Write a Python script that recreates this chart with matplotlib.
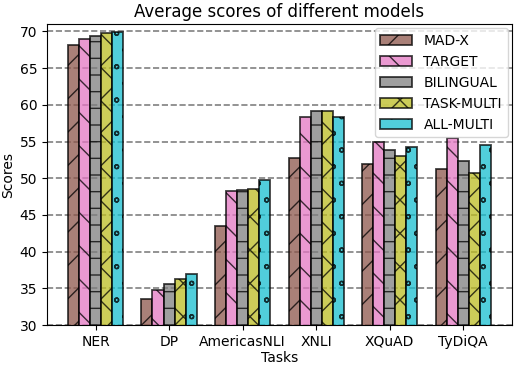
import matplotlib
matplotlib.use('Agg')
import matplotlib.pyplot as plt
import matplotlib.hatch
import numpy as np

# Values
tasks = ['NER', 'DP', 'AmericasNLI', 'XNLI', 'XQuAD', 'TyDiQA']
models = ['MAD-X', 'TARGET', 'BILINGUAL', 'TASK-MULTI', 'ALL-MULTI']

mad_x = [68.1, 33.6, 43.5, 52.8, 52.0, 51.3]
target = [69.0, 34.8, 48.3, 58.3, 54.9, 55.5]
bilingual = [69.4, 35.6, 48.4, 59.2, 53.9, 52.4]
task_multi = [69.8, 36.3, 48.5, 59.1, 53.0, 50.7]
all_multi = [69.9, 36.9, 49.8, 58.4, 54.3, 54.5]

scores = [mad_x, target, bilingual, task_multi, all_multi]
colors = ['tab:brown', 'tab:pink', 'tab:gray', 'tab:olive', 'tab:cyan']
hatches = ['/', '\\', '-', 'x', 'o']

# smaller rings for the 'o' hatch
matplotlib.hatch.SmallCircles.size = 0.12

fig = plt.figure(figsize=(5.14, 3.66), dpi=100)
ax = fig.add_axes([0.0914, 0.112, 0.9041, 0.822])

x = np.arange(len(tasks))
width = 0.15
for i, (name, vals) in enumerate(zip(models, scores)):
    ax.bar(x + (i - 2) * width, vals, width, label=name, color=colors[i],
           hatch=hatches[i], edgecolor='black', linewidth=1.3, alpha=0.75)

ax.set_ylim(30, 71)
ax.set_xlim(-0.66, 5.66)
ax.set_xticks(x)
ax.set_xticklabels(tasks)
ax.set_yticks(np.arange(30, 71, 5))
ax.tick_params(labelsize=10)
ax.yaxis.grid(True, linestyle='--', color='gray', linewidth=1.2)
ax.set_axisbelow(True)

ax.set_xlabel('Tasks', fontsize=10, labelpad=1.5)
ax.set_ylabel('Scores', fontsize=10, labelpad=3)
ax.set_title('Average scores of different models', fontsize=12, pad=5)
ax.legend(loc='upper right', fontsize=10, borderaxespad=0.3, handlelength=2.3)

fig.savefig('out.png', dpi=100)
